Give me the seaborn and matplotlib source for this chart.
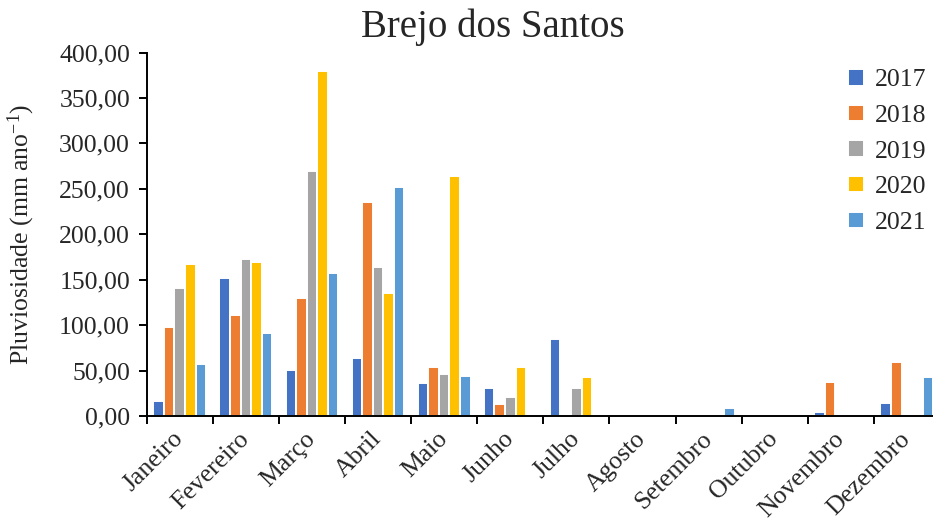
import matplotlib
matplotlib.use("Agg")
import matplotlib.pyplot as plt
from matplotlib.ticker import FuncFormatter, FixedLocator
import seaborn as sns
import pandas as pd

months = ["Janeiro", "Fevereiro", "Março", "Abril", "Maio", "Junho", "Julho",
          "Agosto", "Setembro", "Outubro", "Novembro", "Dezembro"]
years = ["2017", "2018", "2019", "2020", "2021"]
v2017 = [16.1, 151.9, 50.3, 64.2, 36.3, 30.8, 84.2, 0, 0, 0, 4.4, 14.3]
v2018 = [98.3, 110.8, 129.9, 235.6, 54.2, 12.8, 0, 0, 0, 0, 37.0, 59.0]
v2019 = [140.9, 172.5, 270.1, 164.4, 45.8, 21.2, 30.8, 0, 0, 0, 0, 0]
v2020 = [167.0, 169.9, 379.8, 135.4, 263.7, 54.2, 43.2, 0, 0, 0, 0, 0]
v2021 = [57.2, 91.7, 157.1, 252.1, 44.3, 0, 0, 0, 8.4, 0, 0, 42.5]
colors = ["#4472C4", "#ED7D31", "#A5A5A5", "#FFC000", "#5B9BD5"]
yticks = [0, 50, 100, 150, 200, 250, 300, 350, 400]

series = [v2017, v2018, v2019, v2020, v2021]
rows = []
for yr, vals in zip(years, series):
    for m, v in zip(months, vals):
        rows.append({"Mês": m, "Ano": yr, "Pluviosidade": v})
df = pd.DataFrame(rows)

sns.set_style("white")
plt.rcParams["font.family"] = ["Liberation Serif", "DejaVu Serif"]
plt.rcParams["mathtext.fontset"] = "custom"
plt.rcParams["mathtext.rm"] = "Liberation Serif"
plt.rcParams["mathtext.it"] = "Liberation Serif:italic"

FS = 18.5
W, H = 933, 523
fig = plt.figure(figsize=(W / 100, H / 100), dpi=100)
left, right, top, bottom = 146.7, 939.9, 52.5, 416.0
ax = fig.add_axes([left / W, 1 - bottom / H, (right - left) / W, (bottom - top) / H])

sns.barplot(data=df, x="Mês", y="Pluviosidade", hue="Ano", order=months,
            hue_order=years, palette=colors, width=0.8, edgecolor="white",
            linewidth=1.4, saturation=1, ax=ax, legend=True)

ax.set_xlim(-0.5, len(months) - 0.5)
ax.set_ylim(0, 400)
ax.yaxis.set_major_locator(FixedLocator(yticks))
ax.yaxis.set_major_formatter(FuncFormatter(lambda v, p: f"{v:.2f}".replace(".", ",")))

for s in ["top", "right"]:
    ax.spines[s].set_visible(False)
for s in ["left", "bottom"]:
    ax.spines[s].set_color("black")
    ax.spines[s].set_linewidth(1.4)

ax.tick_params(axis="y", which="major", direction="out", length=6, width=1.4,
               color="black", labelsize=FS, pad=6, left=True)
ax.tick_params(axis="x", which="major", length=0, labelsize=FS, pad=14)
ax.set_xticks(range(len(months)))
ax.set_xticks([i - 0.5 for i in range(len(months) + 1)], minor=True)
ax.tick_params(axis="x", which="minor", direction="out", length=6, width=1.4,
               color="black", bottom=True)
for lab in ax.get_xticklabels():
    lab.set_rotation(45)
    lab.set_ha("right")
    lab.set_va("center")
    lab.set_rotation_mode("anchor")

ax.set_xlabel("")
ax.set_ylabel("Pluviosidade (mm ano$^{-1}$)", fontsize=FS)
ax.yaxis.set_label_coords((37 - left) / (right - left), 0.5)

fig.text(493 / W, 1 - 27 / H, "Brejo dos Santos", ha="center", va="center", fontsize=28)

handles, labels = ax.get_legend_handles_labels()
ax.get_legend().remove()
fig.legend(handles, labels, loc="upper left", bbox_to_anchor=(838 / W, 1 - 59 / H),
           frameon=False, fontsize=FS, handlelength=0.6, handleheight=0.6,
           handletextpad=0.45, labelspacing=0.52, borderaxespad=0)

fig.savefig("out.png", dpi=100)
